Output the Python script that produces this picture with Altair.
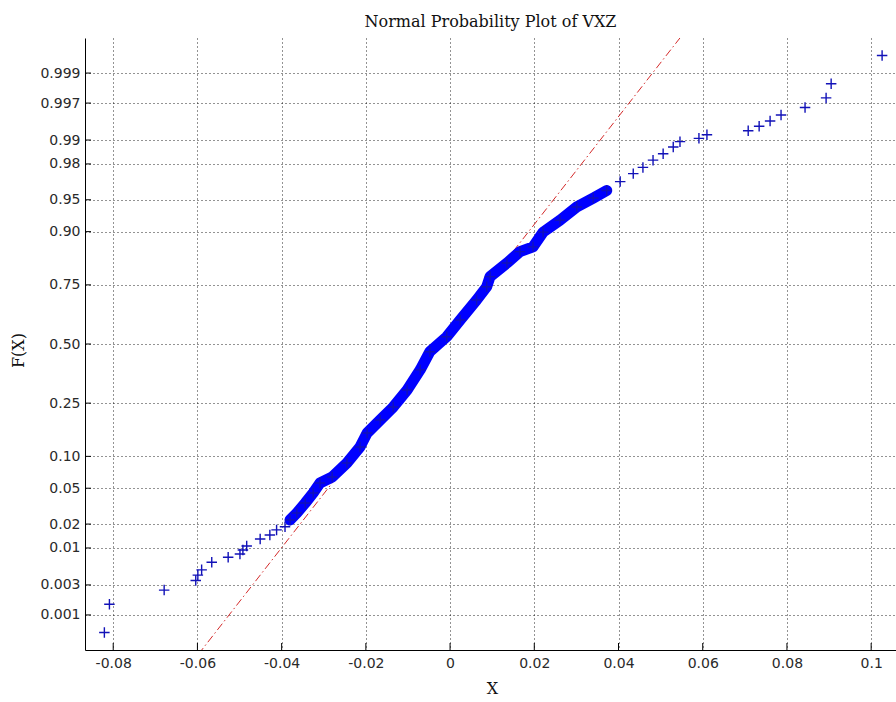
from statistics import NormalDist

import altair as alt
import pandas as pd

nd = NormalDist()

# Sorted sample values of VXZ and their plotting probabilities F(X)
sample_x = [
    -0.0821, -0.0809, -0.0679, -0.0604, -0.0599, -0.0590, -0.0566, -0.0527,
    -0.0499, -0.0492, -0.0483, -0.0451, -0.0428, -0.0412, -0.0392, -0.0380,
    -0.0364, -0.0344, -0.0325, -0.0309, -0.0280, -0.0245, -0.0214, -0.0197,
    -0.0166, -0.0135, -0.0102, -0.0071, -0.0048, -0.0008, 0.0024, 0.0063,
    0.0087, 0.0095, 0.0135, 0.0166, 0.0197, 0.0221, 0.0261, 0.0301,
    0.0340, 0.0372, 0.0404, 0.0435, 0.0458, 0.0482, 0.0506, 0.0530,
    0.0546, 0.0591, 0.0610, 0.0708, 0.0734, 0.0760, 0.0786, 0.0843,
    0.0893, 0.0905, 0.1026,
]
sample_F = [
    0.0005, 0.0015, 0.0025, 0.0035, 0.0042, 0.0050, 0.0064, 0.0075,
    0.0083, 0.0094, 0.0106, 0.0131, 0.0147, 0.0170, 0.0186, 0.0224,
    0.0270, 0.0349, 0.0447, 0.0565, 0.0646, 0.0874, 0.1202, 0.155,
    0.193, 0.236, 0.300, 0.384, 0.465, 0.533, 0.608, 0.692,
    0.743, 0.779, 0.822, 0.854, 0.866, 0.899, 0.921, 0.941,
    0.952, 0.960, 0.968, 0.974, 0.978, 0.982, 0.985, 0.9877,
    0.9895, 0.9905, 0.9915, 0.9925, 0.9935, 0.9945, 0.9955, 0.9965,
    0.9975, 0.9985, 0.9995,
]

# Reference line through the quartiles, extended past the axes
ref_x = [-0.0598, 0.0554]
ref_F = [0.0002, 0.9998]

prob_ticks = [0.001, 0.003, 0.01, 0.02, 0.05, 0.10, 0.25, 0.50,
              0.75, 0.90, 0.95, 0.98, 0.99, 0.997, 0.999]
prob_labels = ["0.001", "0.003", "0.01", "0.02", "0.05", "0.10", "0.25", "0.50",
               "0.75", "0.90", "0.95", "0.98", "0.99", "0.997", "0.999"]
x_ticks = [-0.08, -0.06, -0.04, -0.02, 0, 0.02, 0.04, 0.06, 0.08, 0.1]

X_DOMAIN = [-0.0867, 0.1059]
Z_LIMIT = 3.49
W, H = 811, 612

pts = pd.DataFrame({"x": sample_x, "F": sample_F})
pts["z"] = [nd.inv_cdf(p) for p in pts["F"]]
# central part where the markers merge into a solid band
band = pts[(pts["x"] >= -0.0385) & (pts["x"] <= 0.0375)]
ref = pd.DataFrame({"x": ref_x, "z": [nd.inv_cdf(p) for p in ref_F]})

# probability axis: ticks sit at the normal quantiles, labelled with F
tick_z = [nd.inv_cdf(p) for p in prob_ticks]
y_label_expr = "''"
for z, lab in zip(reversed(tick_z), reversed(prob_labels)):
    y_label_expr = f"round(datum.value*1000) == {round(z * 1000)} ? '{lab}' : ({y_label_expr})"

x_scale = alt.Scale(domain=X_DOMAIN, nice=False, zero=False)
y_scale = alt.Scale(domain=[-Z_LIMIT, Z_LIMIT], nice=False, zero=False)

GRID = dict(grid=True, gridDash=[1, 3], gridColor="#000000", gridOpacity=0.85,
            gridWidth=1, tickSize=0, domainColor="#000000", domainWidth=1,
            labelFont="DejaVu Sans", labelFontSize=14, labelColor="#2a2a2a",
            titleFont="DejaVu Serif", titleFontSize=16, titleFontWeight="normal",
            titleColor="#111111")

x_axis = alt.Axis(values=x_ticks, labelExpr="'' + datum.value", labelPadding=6,
                  title="X", titleX=407, titleY=38, titleBaseline="middle",
                  titleAlign="center", **GRID)
y_axis = alt.Axis(values=tick_z, labelExpr=y_label_expr, labelPadding=5,
                  title="F(X)", titleX=-67, titleY=312, titleBaseline="middle",
                  titleAlign="center", **GRID)

X_ENC = alt.X("x:Q", scale=x_scale, axis=x_axis)
Y_ENC = alt.Y("z:Q", scale=y_scale, axis=y_axis)

PLUS = "M-1,0L1,0M0,-1L0,1"

fit_line = alt.Chart(ref).mark_line(
    color="#d42a2a", strokeWidth=1, strokeDash=[8, 3, 1.5, 3], clip=True
).encode(x=X_ENC, y=Y_ENC)

band_line = alt.Chart(band).mark_line(
    color="#0000ff", strokeWidth=11, strokeCap="round", strokeJoin="round"
).encode(x=X_ENC, y=Y_ENC, order="z:Q")

markers = alt.Chart(pts).mark_point(
    shape=PLUS, size=110, filled=False, strokeWidth=1.4, color="#1212b8", opacity=1
).encode(x=X_ENC, y=Y_ENC)

left_ticks = alt.Chart(pd.DataFrame({"z": tick_z})).mark_rule(
    color="#000000", strokeWidth=1
).encode(y=Y_ENC, x=alt.value(0), x2=alt.value(6))

bottom_ticks = alt.Chart(pd.DataFrame({"x": x_ticks})).mark_rule(
    color="#000000", strokeWidth=1
).encode(x=X_ENC, y=alt.value(H), y2=alt.value(H - 7))

chart = alt.layer(fit_line, band_line, markers, left_ticks, bottom_ticks).properties(
    width=W,
    height=H,
    title=alt.TitleParams(
        "Normal Probability Plot of VXZ", font="DejaVu Serif", fontSize=16,
        fontWeight="normal", color="#111111", anchor="middle", frame="group",
        baseline="bottom", offset=8, dy=16,
    ),
    autosize=alt.AutoSizeParams(type="none"),
    padding={"left": 85, "top": 38, "right": 0, "bottom": 52},
    background="white",
).configure_view(stroke=None)

chart.save("out.html", embed_options={"renderer": "svg", "actions": False})
